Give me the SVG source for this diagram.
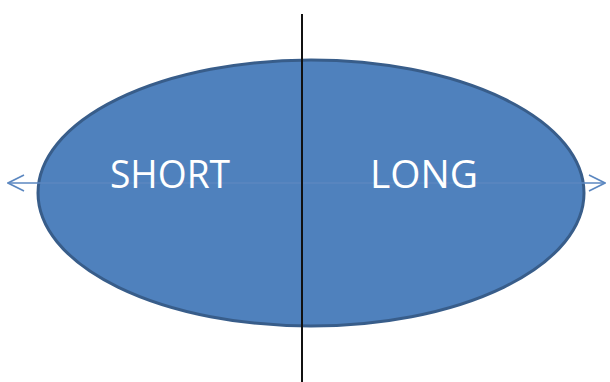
<svg xmlns="http://www.w3.org/2000/svg" width="610" height="382" viewBox="0 0 610 382">
  <style>
    .lbl { font-family: "Open Sans", "Liberation Sans", sans-serif; font-size: 38px; font-weight: 500; fill: #ffffff; }
    .axis { stroke: #5b87c0; stroke-width: 1.5; fill: none; }
  </style>
  <defs>
    <marker id="chev" viewBox="0 0 18 20" refX="17" refY="10" markerWidth="18" markerHeight="20" markerUnits="userSpaceOnUse" orient="auto-start-reverse">
      <path d="M1,2 L17,10 L1,18" fill="none" stroke="#5b87c0" stroke-width="1.6"/>
    </marker>
  </defs>
  <rect width="610" height="382" fill="#ffffff"/>
  <g id="ellipse">
    <ellipse cx="311" cy="193" rx="273" ry="133" fill="#4f81bd" stroke="#385d8a" stroke-width="3"/>
  </g>
  <g id="connectors">
    <line class="axis" x1="8" y1="183" x2="605" y2="183" marker-start="url(#chev)" marker-end="url(#chev)"/>
    <line x1="302" y1="14" x2="302" y2="382" stroke="#111111" stroke-width="2"/>
  </g>
  <g id="short">
    <text class="lbl" x="170" y="188" text-anchor="middle" textLength="120" lengthAdjust="spacingAndGlyphs">SHORT</text>
  </g>
  <g id="long">
    <text class="lbl" x="424" y="188" text-anchor="middle" textLength="108" lengthAdjust="spacingAndGlyphs">LONG</text>
  </g>
</svg>
